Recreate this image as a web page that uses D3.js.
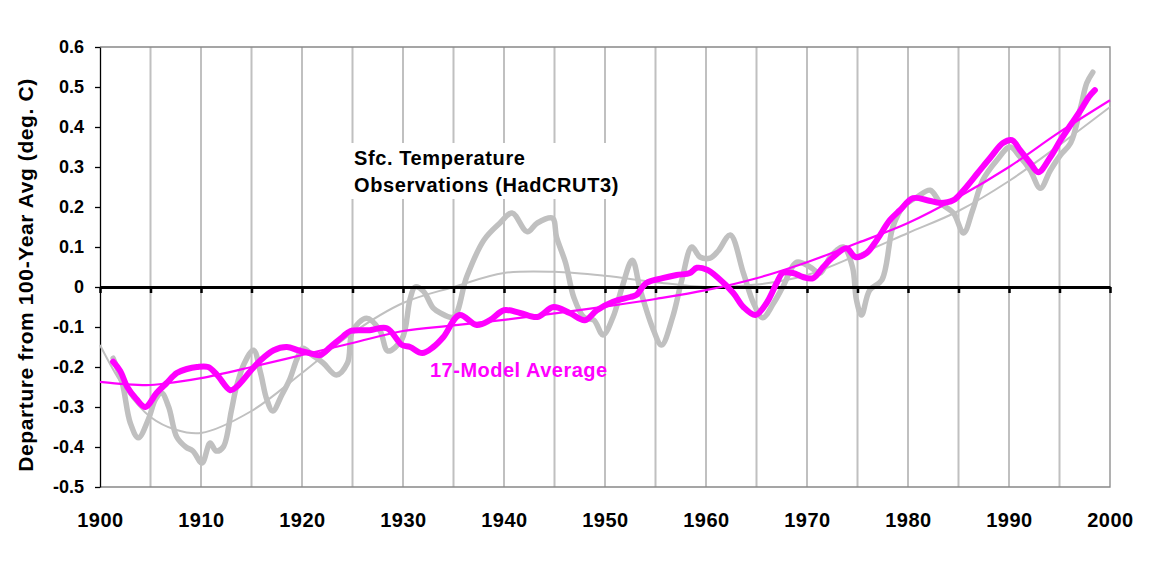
<!DOCTYPE html>
<html>
<head>
<meta charset="utf-8">
<script src="https://cdn.jsdelivr.net/npm/d3@7"></script>
<style>
  html, body { margin: 0; padding: 0; background: #fff; }
  svg { display: block; font-family: Arial, "Liberation Sans", sans-serif; }
</style>
</head>
<body>
<svg id="chart" width="1152" height="576"></svg>
<script>
// ---- Data ----
const obsYears = [1901.3,1902.2,1903.0,1903.8,1904.8,1905.5,1906.1,1906.8,1907.6,1908.5,1909.2,1910.1,1910.9,1911.5,1912.2,1913.0,1913.5,1914.3,1915.2,1915.9,1916.5,1917.1,1918.0,1918.8,1919.5,1920.1,1921.0,1922.1,1923.4,1924.5,1925.0,1926.4,1927.7,1928.5,1929.9,1930.7,1931.2,1932.0,1933.0,1933.7,1935.0,1936.3,1938.0,1939.6,1940.8,1942.3,1943.3,1944.8,1945.2,1946.1,1946.9,1947.9,1948.9,1949.8,1950.8,1951.7,1952.7,1953.5,1954.8,1955.6,1956.7,1957.6,1958.6,1959.4,1960.4,1961.2,1962.4,1963.7,1964.7,1965.6,1966.7,1967.6,1969.0,1970.3,1971.3,1972.3,1973.6,1974.5,1974.9,1975.4,1976.2,1977.4,1978.5,1979.5,1980.9,1982.2,1983.2,1984.5,1985.5,1986.4,1987.4,1988.8,1990.1,1991.1,1992.1,1993.1,1994.1,1995.1,1996.1,1997.1,1997.7,1998.3];
const obsValues = [-0.178,-0.24,-0.34,-0.377,-0.33,-0.28,-0.265,-0.30,-0.375,-0.40,-0.41,-0.44,-0.39,-0.41,-0.40,-0.31,-0.25,-0.19,-0.158,-0.215,-0.28,-0.31,-0.27,-0.23,-0.18,-0.153,-0.17,-0.19,-0.22,-0.19,-0.11,-0.078,-0.108,-0.16,-0.13,-0.03,0.0,-0.01,-0.053,-0.065,-0.075,0.025,0.117,0.16,0.185,0.138,0.16,0.172,0.125,0.06,-0.025,-0.075,-0.083,-0.12,-0.075,0.0,0.067,-0.008,-0.108,-0.145,-0.075,0.017,0.10,0.075,0.072,0.09,0.13,0.035,-0.04,-0.077,-0.04,0.0,0.062,0.05,0.035,0.075,0.10,0.05,-0.033,-0.07,-0.008,0.017,0.15,0.20,0.225,0.242,0.21,0.185,0.135,0.192,0.267,0.317,0.35,0.325,0.292,0.247,0.292,0.33,0.36,0.45,0.51,0.537];

const modelYears = [1901.3,1902.0,1902.7,1903.6,1904.5,1905.6,1906.6,1907.6,1908.6,1909.6,1910.7,1911.6,1912.9,1913.5,1914.9,1915.9,1917.2,1918.5,1919.6,1920.7,1921.8,1922.8,1924.0,1924.8,1926.7,1928.4,1929.9,1930.7,1931.9,1933.0,1934.0,1935.6,1937.3,1938.6,1940.0,1941.6,1943.3,1944.9,1946.5,1948.0,1949.2,1950.8,1952.5,1953.1,1954.1,1955.7,1957.1,1958.4,1959.1,1960.1,1961.1,1962.7,1963.7,1964.9,1966.0,1967.0,1967.6,1968.6,1969.6,1970.6,1971.6,1972.6,1973.9,1974.8,1975.9,1976.9,1978.2,1979.2,1980.5,1981.9,1983.2,1984.5,1985.5,1986.9,1988.2,1989.4,1990.3,1991.1,1992.1,1992.9,1994.1,1995.1,1996.1,1997.1,1997.9,1998.5];
const modelValues = [-0.187,-0.21,-0.25,-0.28,-0.30,-0.265,-0.24,-0.215,-0.205,-0.20,-0.20,-0.22,-0.258,-0.25,-0.21,-0.183,-0.158,-0.15,-0.158,-0.165,-0.17,-0.15,-0.125,-0.11,-0.108,-0.103,-0.145,-0.15,-0.165,-0.15,-0.125,-0.07,-0.095,-0.083,-0.058,-0.065,-0.075,-0.05,-0.065,-0.083,-0.058,-0.037,-0.025,-0.02,0.01,0.022,0.03,0.035,0.048,0.043,0.025,-0.015,-0.05,-0.07,-0.04,0.01,0.035,0.035,0.025,0.022,0.05,0.075,0.097,0.075,0.085,0.117,0.167,0.192,0.222,0.217,0.21,0.217,0.242,0.285,0.325,0.36,0.367,0.342,0.31,0.287,0.325,0.367,0.405,0.442,0.475,0.492];

const trendYears = [1900,1902.5,1905,1907.5,1910,1915,1920,1925,1930,1935,1940,1945,1950,1955,1960,1965,1970,1975,1980,1985,1990,1995,2000];
const modelTrend = [-0.237,-0.243,-0.245,-0.238,-0.228,-0.20,-0.17,-0.14,-0.11,-0.096,-0.082,-0.066,-0.049,-0.03,-0.008,0.022,0.062,0.11,0.16,0.225,0.30,0.387,0.467];
const obsTrend = [-0.145,-0.255,-0.325,-0.357,-0.365,-0.31,-0.215,-0.115,-0.04,0.0,0.035,0.038,0.028,0.012,0.0,0.006,0.03,0.08,0.135,0.19,0.265,0.355,0.45];

const yTicks = [0.6,0.5,0.4,0.3,0.2,0.1,0,-0.1,-0.2,-0.3,-0.4,-0.5];
const xTicks = [1900,1910,1920,1930,1940,1950,1960,1970,1980,1990,2000];
const gridYears = [1905,1910,1915,1920,1925,1930,1935,1940,1945,1950,1955,1960,1965,1970,1975,1980,1985,1990,1995];
const zeroTickYears = [1900,1905,1910,1915,1920,1925,1930,1935,1940,1945,1950,1955,1960,1965,1970,1975,1980,1985,1990,1995,2000];

const yTitle = "Departure from 100-Year Avg (deg. C)";
const obsLabel = ["Sfc. Temperature", "Observations (HadCRUT3)"];
const modelLabel = "17-Model Average";

// ---- Layout ----
const L = 100, R = 1110, T = 47, B = 487;
const svg = d3.select("#chart");
const x = d3.scaleLinear().domain([1900, 2000]).range([L, R]);
const y = d3.scaleLinear().domain([-0.5, 0.6]).range([B, T]);

const MAG = "#FF00FF", GRAY = "#C0C0C0";

// gridlines
svg.append("g").selectAll("line").data(gridYears).join("line")
  .attr("x1", d => x(d)).attr("x2", d => x(d))
  .attr("y1", T).attr("y2", B)
  .attr("stroke", GRAY).attr("stroke-width", 2);

// plot border (top, right, bottom)
svg.append("path")
  .attr("d", `M${L},${T}H${R}V${B}H${L}`)
  .attr("fill", "none").attr("stroke", "#888").attr("stroke-width", 1.3);

// annotation background box
svg.append("rect").attr("x", 345).attr("y", 143).attr("width", 278).attr("height", 56).attr("fill", "#fff");

// left axis
const yAxis = svg.append("g").attr("transform", `translate(${L},0)`)
  .call(d3.axisLeft(y).tickValues(yTicks).tickSize(5).tickPadding(11).tickSizeOuter(0)
    .tickFormat(d => d === 0 ? "0" : d.toFixed(1)));
yAxis.select(".domain").attr("stroke", "#000").attr("stroke-width", 1.3);
yAxis.selectAll("line").attr("stroke", "#000").attr("stroke-width", 1.3);
yAxis.selectAll("text").attr("font-size", 18).attr("font-weight", "bold").attr("fill", "#000")
  .attr("font-family", "Arial, 'Liberation Sans', sans-serif");

// bottom labels
const xLab = svg.append("g").attr("transform", `translate(0,${B})`)
  .call(d3.axisBottom(x).tickValues(xTicks).tickSize(0).tickPadding(26).tickFormat(d3.format("d")));
xLab.select(".domain").remove();
xLab.selectAll("text").attr("font-size", 20).attr("font-weight", "bold").attr("fill", "#000")
  .attr("font-family", "Arial, 'Liberation Sans', sans-serif").attr("letter-spacing", 0.5);

// y title
svg.append("text")
  .attr("transform", `translate(33,275) rotate(-90)`)
  .attr("text-anchor", "middle")
  .attr("font-size", 21).attr("font-weight", "bold").attr("fill", "#000")
  .attr("letter-spacing", 0.6)
  .text(yTitle);

// series
const obsData = obsYears.map((d, i) => [d, obsValues[i]]);
const modelData = modelYears.map((d, i) => [d, modelValues[i]]);
const mtData = trendYears.map((d, i) => [d, modelTrend[i]]);
const otData = trendYears.map((d, i) => [d, obsTrend[i]]);

const lineRough = d3.line().x(d => x(d[0])).y(d => y(d[1])).curve(d3.curveCatmullRom.alpha(0.5));
const lineTrend = d3.line().x(d => x(d[0])).y(d => y(d[1])).curve(d3.curveCatmullRom);

svg.append("path").datum(obsData).attr("d", lineRough)
  .attr("fill", "none").attr("stroke", GRAY).attr("stroke-width", 5.5)
  .attr("stroke-linejoin", "round").attr("stroke-linecap", "round");
svg.append("path").datum(otData).attr("d", lineTrend)
  .attr("fill", "none").attr("stroke", GRAY).attr("stroke-width", 2);

// zero line with ticks
const zAxis = svg.append("g").attr("transform", `translate(0,${y(0)})`)
  .call(d3.axisBottom(x).tickValues(zeroTickYears).tickSize(6).tickSizeOuter(0).tickFormat(""));
zAxis.select(".domain").attr("stroke", "#000").attr("stroke-width", 3);
zAxis.selectAll("line").attr("stroke", "#000").attr("stroke-width", 2.5);

svg.append("path").datum(modelData).attr("d", lineRough)
  .attr("fill", "none").attr("stroke", MAG).attr("stroke-width", 6)
  .attr("stroke-linejoin", "round").attr("stroke-linecap", "round");
svg.append("path").datum(mtData).attr("d", lineTrend)
  .attr("fill", "none").attr("stroke", MAG).attr("stroke-width", 2.2);

// annotations
const ann = svg.append("text").attr("font-size", 20).attr("font-weight", "bold").attr("fill", "#000")
  .attr("letter-spacing", 0.6);
ann.append("tspan").attr("x", 354).attr("y", 165).text(obsLabel[0]);
ann.append("tspan").attr("x", 354).attr("y", 192).text(obsLabel[1]);

svg.append("text").attr("x", 430).attr("y", 377)
  .attr("font-size", 20).attr("font-weight", "bold").attr("fill", MAG)
  .attr("letter-spacing", 0.5)
  .text(modelLabel);
</script>
</body>
</html>
